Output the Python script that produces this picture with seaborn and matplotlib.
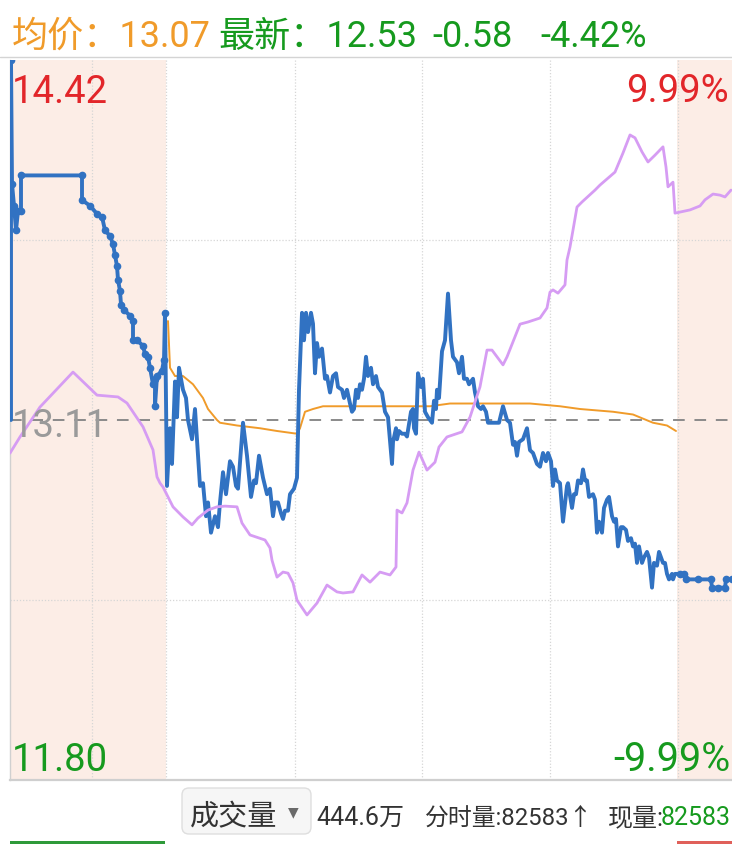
import numpy as np
import pandas as pd
import matplotlib
matplotlib.use("Agg")
import matplotlib.pyplot as plt
from matplotlib.lines import Line2D
from matplotlib.patches import FancyBboxPatch, Rectangle
import seaborn as sns

W, H = 732, 844

# ---------------- data ----------------
prev_close = 13.11
price_high = 14.42
price_low = 11.80
pct_limit = 9.99

avg_label = "13.07"
last_label = "12.53"
change_label = "-0.58"
change_pct_label = "-4.42%"

# time axis (chart slot units): pre-market | continuous | after-hours
premarket_span = (10, 166)
afterhours_span = (677, 732)
grid_times = [92, 166, 295, 422, 550, 678]
grid_prices = [13.765, 12.455]

# price line – pre-market auction part
pre_t = [11, 11, 12, 14, 16, 18, 21, 21, 82, 82, 90, 97, 102, 105, 110, 113, 115, 117, 118,
         120, 121, 124, 130, 133, 133, 137, 143, 145, 148, 150, 153, 155, 155, 157, 162, 164, 165]
pre_p = [13.11, 14.42, 13.97, 13.89, 13.80, 13.87, 13.87, 14.00, 14.00, 13.91, 13.89, 13.86, 13.85,
         13.80, 13.78, 13.75, 13.71, 13.67, 13.62, 13.58, 13.53, 13.51, 13.49, 13.47, 13.40, 13.40,
         13.38, 13.35, 13.34, 13.30, 13.24, 13.26, 13.16, 13.27, 13.29, 13.33, 13.50]

# price line – continuous session
cont_t = [167, 170, 172, 175, 177, 179, 183, 186, 188, 192, 195, 200, 203, 206, 208, 211, 215, 218,
          220, 223, 226, 230, 233, 236, 238, 243, 247, 251, 254, 256, 259, 263, 267, 270, 273, 275,
          278, 281, 283, 285, 288, 290, 294, 297, 299, 302, 304, 306, 308, 311, 313, 315, 317, 319,
          322, 325, 327, 330, 333, 336, 338, 342, 344, 347, 350, 352, 354, 356, 358, 360, 362, 364,
          366, 368, 371, 373, 376, 378, 382, 385, 388, 392, 393, 396, 397, 399, 402, 405, 407, 411,
          413, 414, 416, 418, 421, 423, 425, 428, 432, 434, 436, 437, 439, 442, 445, 448, 451, 453,
          457, 459, 462, 464, 467, 469, 473, 475, 478, 481, 483, 486, 488, 492, 494, 497, 499, 503,
          507, 510, 513, 515, 517, 519, 523, 527, 530, 533, 537, 540, 543, 546, 548, 551, 553, 555,
          557, 560, 563, 567, 568, 572, 574, 576, 578, 581, 583, 585, 587, 589, 593, 595, 597, 599,
          602, 604, 607, 609, 612, 614, 616, 618, 621, 623, 626, 628, 631, 633, 635, 637, 639, 642,
          644, 647, 649, 652, 654, 657, 659, 663, 665, 667, 669, 672, 673, 675, 677]
cont_p = [12.87, 13.08, 12.95, 13.25, 13.12, 13.30, 13.22, 13.19, 13.11, 13.04, 13.15, 12.87, 12.88,
          12.76, 12.81, 12.70, 12.76, 12.72, 12.81, 12.92, 12.84, 12.96, 12.94, 12.87, 12.86, 13.10,
          12.98, 12.83, 12.89, 12.88, 12.98, 12.90, 12.84, 12.86, 12.76, 12.81, 12.81, 12.77, 12.75,
          12.78, 12.78, 12.84, 12.86, 12.90, 13.22, 13.50, 13.40, 13.50, 13.43, 13.50, 13.46, 13.28,
          13.39, 13.34, 13.37, 13.26, 13.27, 13.21, 13.27, 13.28, 13.23, 13.22, 13.19, 13.22, 13.17,
          13.14, 13.15, 13.22, 13.19, 13.24, 13.22, 13.26, 13.34, 13.27, 13.30, 13.24, 13.27, 13.23,
          13.21, 13.14, 13.12, 12.95, 13.03, 13.08, 13.04, 13.07, 13.06, 13.06, 13.05, 13.14, 13.15,
          13.08, 13.06, 13.28, 13.23, 13.26, 13.14, 13.12, 13.10, 13.18, 13.15, 13.22, 13.19, 13.36,
          13.40, 13.57, 13.40, 13.34, 13.32, 13.28, 13.34, 13.26, 13.26, 13.24, 13.26, 13.21, 13.16,
          13.15, 13.16, 13.14, 13.10, 13.10, 13.10, 13.10, 13.10, 13.16, 13.11, 13.10, 13.02, 13.03,
          12.98, 13.03, 13.04, 13.08, 13.00, 12.99, 12.95, 12.94, 12.99, 12.96, 12.99, 12.96, 12.87,
          12.93, 12.89, 12.88, 12.74, 12.87, 12.88, 12.79, 12.84, 12.84, 12.89, 12.88, 12.93, 12.89,
          12.89, 12.83, 12.84, 12.82, 12.70, 12.74, 12.70, 12.79, 12.82, 12.83, 12.76, 12.74, 12.75,
          12.65, 12.72, 12.72, 12.71, 12.67, 12.68, 12.65, 12.66, 12.59, 12.65, 12.59, 12.61, 12.63,
          12.61, 12.50, 12.59, 12.58, 12.63, 12.59, 12.59, 12.55, 12.53, 12.55, 12.53, 12.55, 12.55]

# price line – after-hours
post_t = [680, 684, 686, 698, 711, 712, 718, 725, 726, 732]
post_p = [12.55, 12.55, 12.53, 12.53, 12.53, 12.50, 12.50, 12.50, 12.53, 12.53]

# average price line
avg_t = [168, 170, 175, 183, 193, 203, 208, 217, 220, 237, 260, 277, 297, 300, 305, 313, 323, 357,
         383, 407, 430, 450, 480, 530, 560, 580, 613, 633, 653, 667, 676]
avg_p = [13.47, 13.30, 13.27, 13.27, 13.24, 13.19, 13.15, 13.11, 13.10, 13.09, 13.08, 13.07, 13.06,
         13.08, 13.14, 13.15, 13.16, 13.16, 13.16, 13.16, 13.16, 13.17, 13.17, 13.17, 13.16, 13.15,
         13.14, 13.13, 13.10, 13.09, 13.07]

# comparison line (percent change)
cmp_t = [10, 20, 40, 73, 97, 118, 127, 143, 153, 157, 160, 163, 173, 183, 192, 198, 208, 217, 225,
         237, 242, 250, 265, 270, 272, 277, 283, 288, 293, 297, 307, 317, 327, 337, 343, 353, 362,
         370, 380, 390, 396, 397, 402, 407, 413, 419, 427, 435, 439, 447, 462, 470, 480, 487, 492,
         503, 507, 520, 528, 540, 547, 550, 553, 558, 565, 567, 570, 573, 577, 582, 595, 600, 615,
         623, 630, 635, 642, 648, 655, 663, 666, 668, 673, 675, 680, 690, 700, 705, 713, 720, 725, 731]
cmp_pct = [-0.92, -0.47, 0.36, 1.33, 0.69, 0.64, 0.47, -0.19, -0.83, -1.58, -1.75, -1.86, -2.41,
           -2.69, -2.91, -2.72, -2.50, -2.41, -2.39, -2.41, -2.86, -3.19, -3.33, -3.55, -3.89, -4.36,
           -4.22, -4.25, -4.52, -5.00, -5.41, -5.08, -4.58, -4.77, -4.80, -4.77, -4.30, -4.50, -4.22,
           -4.30, -4.08, -2.50, -2.58, -2.30, -1.39, -0.89, -1.39, -1.17, -0.75, -0.47, -0.33, 0.08,
           0.92, 1.94, 1.94, 1.53, 1.75, 2.66, 2.72, 2.83, 3.11, 3.55, 3.61, 3.52, 3.75, 4.44, 4.80,
           5.27, 5.91, 6.05, 6.38, 6.52, 6.88, 7.41, 7.91, 7.83, 7.44, 7.16, 7.35, 7.58, 7.02, 6.47,
           6.60, 5.74, 5.77, 5.83, 5.94, 6.11, 6.27, 6.24, 6.19, 6.38]

volume_total = "444.6万"
tick_volume = "82583"

# ---------------- style ----------------
sns.set_theme(style="white")
plt.rcParams['font.family'] = ['Roboto', 'Noto Sans CJK SC', 'DejaVu Sans']

BLUE = "#3172C2"
PURPLE = "#D69CF3"
ORANGE = "#F09B2A"
SHADE = "#FCEDE6"
RED = "#E2262A"
GREEN = "#169A1E"
GRID = "#d6d6d6"

fig = plt.figure(figsize=(W / 100, H / 100), dpi=100)
fig.patch.set_facecolor("white")
ax = fig.add_axes([10 / W, 1 - 780 / H, 722 / W, 720 / H])
ax.set_xlim(10, 732)
ax.set_ylim(price_low, price_high)

ax.axvspan(*premarket_span, color=SHADE, lw=0, zorder=0)
ax.axvspan(*afterhours_span, color=SHADE, lw=0, zorder=0)
for g in grid_times:
    ax.axvline(g, color=GRID, lw=0.9, ls=(0, (1, 1.5)), zorder=1)
for g in grid_prices:
    ax.axhline(g, color=GRID, lw=0.9, ls=(0, (1, 1.5)), zorder=1)
ax.axhline(prev_close, color="#8a8a8a", lw=1.4, ls=(0, (6, 5)), zorder=2)

sns.lineplot(x=avg_t, y=avg_p, ax=ax, color=ORANGE, lw=1.4, sort=False, estimator=None, zorder=3)

blue_t = pre_t + cont_t + post_t
blue_p = pre_p + cont_p + post_p
sns.lineplot(x=blue_t, y=blue_p, ax=ax, color=BLUE, lw=2.8, sort=False, estimator=None, zorder=4)
ax.plot(pre_t[1:], pre_p[1:], 'o', ms=4.5, color=BLUE, zorder=4)
ax.plot(post_t, post_p, 'o', ms=4.5, color=BLUE, zorder=4)

ax2 = ax.twinx()
ax2.set_ylim(-pct_limit, pct_limit)
sns.lineplot(x=cmp_t, y=cmp_pct, ax=ax2, color=PURPLE, lw=2.0, sort=False, estimator=None, zorder=3)

for a in (ax, ax2):
    a.set_xticks([]); a.set_yticks([])
    a.set_xlabel(""); a.set_ylabel("")
    a.set_xlim(10, 732)
    for s in a.spines.values():
        s.set_visible(False)
ax.spines['left'].set_visible(True)
ax.spines['left'].set_color("#d0d0d0")
ax.spines['left'].set_linewidth(1.0)
ax.spines['bottom'].set_visible(True)
ax.spines['bottom'].set_color("#cfcfcf")
ax.spines['bottom'].set_linewidth(1.6)
ax.patch.set_alpha(0)

# top separator
fig.add_artist(Line2D([0, 1], [1 - 57 / H, 1 - 57 / H], color="#d4d4d4", lw=1.0))


def ftext(x, y, s, **kw):
    return fig.text(x / W, 1 - y / H, s, **kw)


# header
ftext(12, 47, "均价：" + avg_label, color=ORANGE, fontsize=26, va="baseline")
ftext(218, 47, "最新：" + last_label, color=GREEN, fontsize=26, va="baseline")
ftext(432, 47, change_label, color=GREEN, fontsize=26, va="baseline")
ftext(540, 47, change_pct_label, color=GREEN, fontsize=26, va="baseline")

# axis labels inside chart
ftext(12, 103, f"{price_high:.2f}", color=RED, fontsize=27.5, va="baseline")
ftext(12, 437, f"{prev_close:.2f}", color="#9a9a9a", fontsize=27.5, va="baseline", zorder=5)
ftext(12, 771, f"{price_low:.2f}", color=GREEN, fontsize=27.5, va="baseline")
ftext(729, 102, f"{pct_limit:.2f}%", color=RED, fontsize=27.5, va="baseline", ha="right")
ftext(730, 771, f"-{pct_limit:.2f}%", color=GREEN, fontsize=28.5, va="baseline", ha="right")

# bottom bar
box = FancyBboxPatch((182 / 100, (H - 834) / 100), 1.29, 0.46,
                     boxstyle="round,pad=0,rounding_size=0.07",
                     transform=fig.dpi_scale_trans, facecolor="#f6f6f6",
                     edgecolor="#dedede", lw=1.0)
fig.add_artist(box)
ftext(190, 825, "成交量", color="#333333", fontsize=21, va="baseline")
ftext(293, 812, "▼", color="#6a6a6a", fontsize=10, va="center", ha="center",
      family=["DejaVu Sans"])
ftext(316, 825, volume_total, color="#333333", fontsize=18, va="baseline")
ftext(425, 825, "分时量:" + tick_volume + "↑", color="#333333", fontsize=17.2, va="baseline")
ftext(731, 825, tick_volume, color=GREEN, fontsize=18, va="baseline", ha="right")
ftext(664, 825, "现量:", color="#333333", fontsize=18, va="baseline", ha="right")

# tops of volume bars peeking at the bottom
fig.add_artist(Rectangle((10 / W, 0), 155 / W, 3 / H, transform=fig.transFigure,
                         color="#2e9a3a", lw=0))
fig.add_artist(Rectangle((677 / W, 0), 55 / W, 3 / H, transform=fig.transFigure,
                         color="#e0605a", lw=0))

fig.savefig("out.png", dpi=100)
